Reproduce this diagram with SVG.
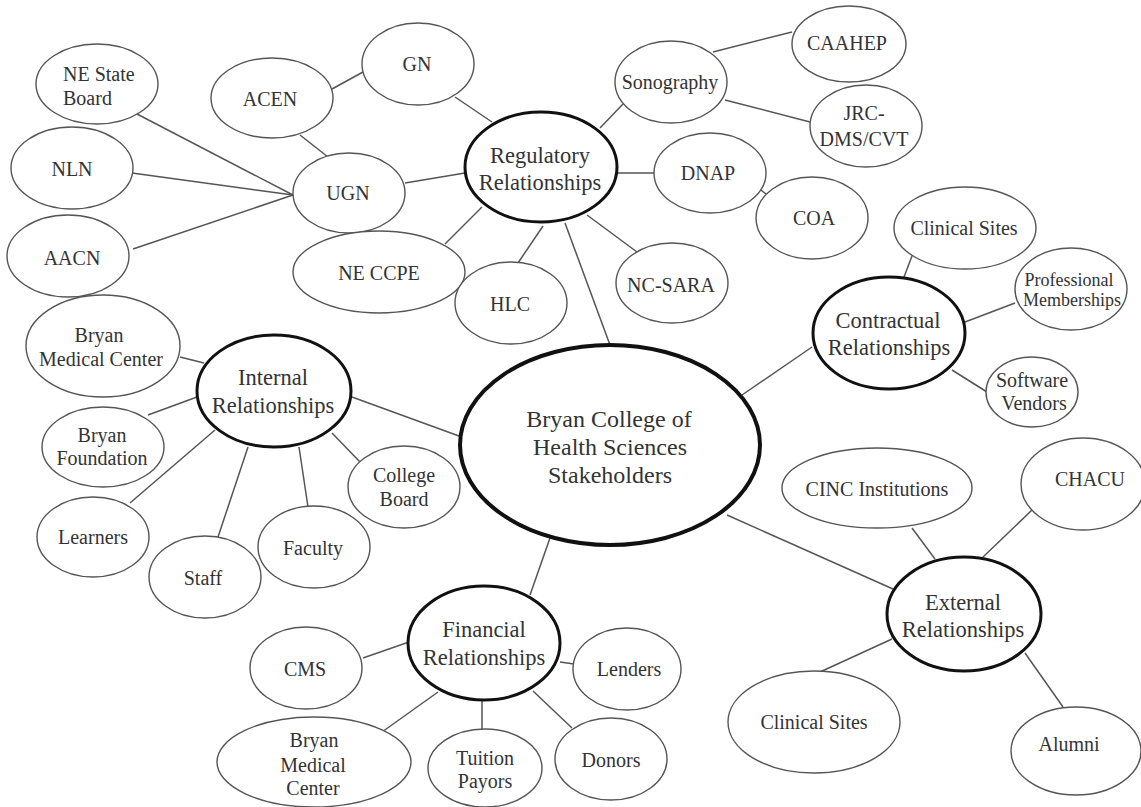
<svg xmlns="http://www.w3.org/2000/svg" width="1141" height="807" viewBox="0 0 1141 807">
<style>
.n{fill:#fff;stroke:#555;stroke-width:1.4}
.h{fill:#fff;stroke:#111;stroke-width:3}
.c{fill:#fff;stroke:#111;stroke-width:4}
text{font-family:"Liberation Serif","Times New Roman",serif;fill:#333;text-anchor:middle}
.s{font-size:20px}
.p{font-size:18px}
.b{font-size:22.5px}
.m{font-size:24px}
#edges line{stroke:#555;stroke-width:1.5}
</style>
<rect width="1141" height="807" fill="#fff"/>
<g id="edges">
<line x1="137" y1="114" x2="293" y2="195"/>
<line x1="132" y1="173" x2="293" y2="195"/>
<line x1="133" y1="249" x2="293" y2="195"/>
<line x1="300" y1="135" x2="328" y2="157"/>
<line x1="332" y1="89" x2="363" y2="72"/>
<line x1="455" y1="97" x2="492" y2="122"/>
<line x1="405" y1="183" x2="465" y2="173"/>
<line x1="445" y1="244" x2="482" y2="207"/>
<line x1="518" y1="263" x2="543" y2="226"/>
<line x1="565" y1="223" x2="610" y2="345"/>
<line x1="587" y1="215" x2="637" y2="252"/>
<line x1="617" y1="173" x2="655" y2="173"/>
<line x1="600" y1="128" x2="623" y2="104"/>
<line x1="713" y1="52" x2="792" y2="32"/>
<line x1="725" y1="100" x2="810" y2="122"/>
<line x1="757" y1="187" x2="770" y2="197"/>
<line x1="912" y1="256" x2="904" y2="277"/>
<line x1="965" y1="322" x2="1015" y2="303"/>
<line x1="952" y1="370" x2="987" y2="392"/>
<line x1="812" y1="347" x2="742" y2="395"/>
<line x1="727" y1="515" x2="893" y2="589"/>
<line x1="912" y1="528" x2="935" y2="559"/>
<line x1="1032" y1="510" x2="982" y2="558"/>
<line x1="892" y1="639" x2="820" y2="672"/>
<line x1="1025" y1="653" x2="1063" y2="707"/>
<line x1="180" y1="357" x2="204" y2="363"/>
<line x1="148" y1="415" x2="197" y2="397"/>
<line x1="130" y1="503" x2="215" y2="430"/>
<line x1="218" y1="537" x2="248" y2="447"/>
<line x1="308" y1="507" x2="299" y2="447"/>
<line x1="360" y1="462" x2="332" y2="433"/>
<line x1="352" y1="397" x2="459" y2="436"/>
<line x1="550" y1="538" x2="530" y2="595"/>
<line x1="363" y1="658" x2="409" y2="642"/>
<line x1="560" y1="662" x2="574" y2="664"/>
<line x1="382" y1="732" x2="438" y2="692"/>
<line x1="482" y1="700" x2="482" y2="729"/>
<line x1="533" y1="691" x2="572" y2="728"/>
</g>
<g id="central"><ellipse class="c" cx="610" cy="445" rx="150" ry="100"/><text class="m" x="609" y="427">Bryan College of</text><text class="m" x="610" y="455">Health Sciences</text><text class="m" x="610" y="483">Stakeholders</text></g>
<g id="regulatory"><ellipse class="h" cx="541" cy="167" rx="76" ry="55"/><text class="b" x="540" y="163">Regulatory</text><text class="b" x="540" y="190">Relationships</text></g>
<g id="contractual"><ellipse class="h" cx="889" cy="333" rx="76" ry="56"/><text class="b" x="888" y="328">Contractual</text><text class="b" x="889" y="355">Relationships</text></g>
<g id="internal"><ellipse class="h" cx="274" cy="391" rx="77" ry="56"/><text class="b" x="273" y="385">Internal</text><text class="b" x="273" y="413">Relationships</text></g>
<g id="financial"><ellipse class="h" cx="484" cy="643" rx="76" ry="57"/><text class="b" x="484" y="637">Financial</text><text class="b" x="484" y="665">Relationships</text></g>
<g id="external"><ellipse class="h" cx="964" cy="614" rx="77" ry="57"/><text class="b" x="963" y="610">External</text><text class="b" x="963" y="637">Relationships</text></g>
<g id="ne-state-board"><ellipse class="n" cx="97" cy="84" rx="61" ry="40"/><text class="s" x="63" y="81" style="text-anchor:start">NE State</text><text class="s" x="63" y="105" style="text-anchor:start">Board</text></g>
<g id="acen"><ellipse class="n" cx="272" cy="98" rx="61" ry="40"/><text class="s" x="270" y="106">ACEN</text></g>
<g id="gn"><ellipse class="n" cx="418" cy="64" rx="56" ry="41"/><text class="s" x="417" y="71">GN</text></g>
<g id="nln"><ellipse class="n" cx="72" cy="168" rx="61" ry="41"/><text class="s" x="72" y="176">NLN</text></g>
<g id="ugn"><ellipse class="n" cx="349" cy="193" rx="56" ry="40"/><text class="s" x="348" y="200">UGN</text></g>
<g id="aacn"><ellipse class="n" cx="68" cy="256" rx="61" ry="41"/><text class="s" x="72" y="265">AACN</text></g>
<g id="ne-ccpe"><ellipse class="n" cx="379" cy="272" rx="86" ry="41"/><text class="s" x="379" y="280">NE CCPE</text></g>
<g id="hlc"><ellipse class="n" cx="511" cy="303" rx="56" ry="41"/><text class="s" x="510" y="311">HLC</text></g>
<g id="nc-sara"><ellipse class="n" cx="672" cy="283" rx="56" ry="40"/><text class="s" x="671" y="292">NC-SARA</text></g>
<g id="sonography"><ellipse class="n" cx="671" cy="82" rx="56" ry="41"/><text class="s" x="670" y="89">Sonography</text></g>
<g id="dnap"><ellipse class="n" cx="710" cy="173" rx="56" ry="40"/><text class="s" x="708" y="180">DNAP</text></g>
<g id="caahep"><ellipse class="n" cx="849" cy="44" rx="57" ry="38"/><text class="s" x="847" y="50">CAAHEP</text></g>
<g id="jrc"><ellipse class="n" cx="866" cy="126" rx="56" ry="41"/><text class="s" x="864" y="120">JRC-</text><text class="s" x="864" y="146">DMS/CVT</text></g>
<g id="coa"><ellipse class="n" cx="812" cy="218" rx="56" ry="41"/><text class="s" x="814" y="225">COA</text></g>
<g id="clinical-sites-1"><ellipse class="n" cx="965" cy="228" rx="71" ry="41"/><text class="s" x="964" y="235">Clinical Sites</text></g>
<g id="professional"><ellipse class="n" cx="1071" cy="289" rx="56" ry="41"/><text class="p" x="1069" y="286">Professional</text><text class="p" x="1072" y="306">Memberships</text></g>
<g id="software"><ellipse class="n" cx="1032" cy="392" rx="46" ry="35"/><text class="s" x="1032" y="387">Software</text><text class="s" x="1034" y="410">Vendors</text></g>
<g id="cinc"><ellipse class="n" cx="877" cy="488" rx="95" ry="40"/><text class="s" x="877" y="496">CINC Institutions</text></g>
<g id="chacu"><ellipse class="n" cx="1083" cy="484" rx="62" ry="46"/><text class="s" x="1090" y="486">CHACU</text></g>
<g id="clinical-sites-2"><ellipse class="n" cx="814" cy="722" rx="86" ry="51"/><text class="s" x="814" y="729">Clinical Sites</text></g>
<g id="alumni"><ellipse class="n" cx="1076" cy="751" rx="65" ry="44"/><text class="s" x="1069" y="751">Alumni</text></g>
<g id="bmc-internal"><ellipse class="n" cx="103" cy="346" rx="77" ry="51"/><text class="s" x="99" y="342">Bryan</text><text class="s" x="101" y="366">Medical Center</text></g>
<g id="bryan-foundation"><ellipse class="n" cx="103" cy="447" rx="61" ry="40"/><text class="s" x="102" y="442">Bryan</text><text class="s" x="102" y="465">Foundation</text></g>
<g id="college-board"><ellipse class="n" cx="404" cy="487" rx="56" ry="41"/><text class="s" x="404" y="482">College</text><text class="s" x="404" y="506">Board</text></g>
<g id="learners"><ellipse class="n" cx="93" cy="537" rx="56" ry="40"/><text class="s" x="93" y="544">Learners</text></g>
<g id="staff"><ellipse class="n" cx="205" cy="577" rx="56" ry="41"/><text class="s" x="203" y="585">Staff</text></g>
<g id="faculty"><ellipse class="n" cx="314" cy="547" rx="56" ry="41"/><text class="s" x="313" y="555">Faculty</text></g>
<g id="cms"><ellipse class="n" cx="306" cy="668" rx="56" ry="41"/><text class="s" x="305" y="676">CMS</text></g>
<g id="lenders"><ellipse class="n" cx="627" cy="669" rx="54" ry="41"/><text class="s" x="629" y="676">Lenders</text></g>
<g id="bmc-financial"><ellipse class="n" cx="314" cy="762" rx="97" ry="45"/><text class="s" x="314" y="747">Bryan</text><text class="s" x="313" y="772">Medical</text><text class="s" x="313" y="795">Center</text></g>
<g id="tuition"><ellipse class="n" cx="485" cy="768" rx="57" ry="39"/><text class="s" x="485" y="765">Tuition</text><text class="s" x="485" y="788">Payors</text></g>
<g id="donors"><ellipse class="n" cx="611" cy="759" rx="56" ry="41"/><text class="s" x="611" y="767">Donors</text></g>
</svg>
